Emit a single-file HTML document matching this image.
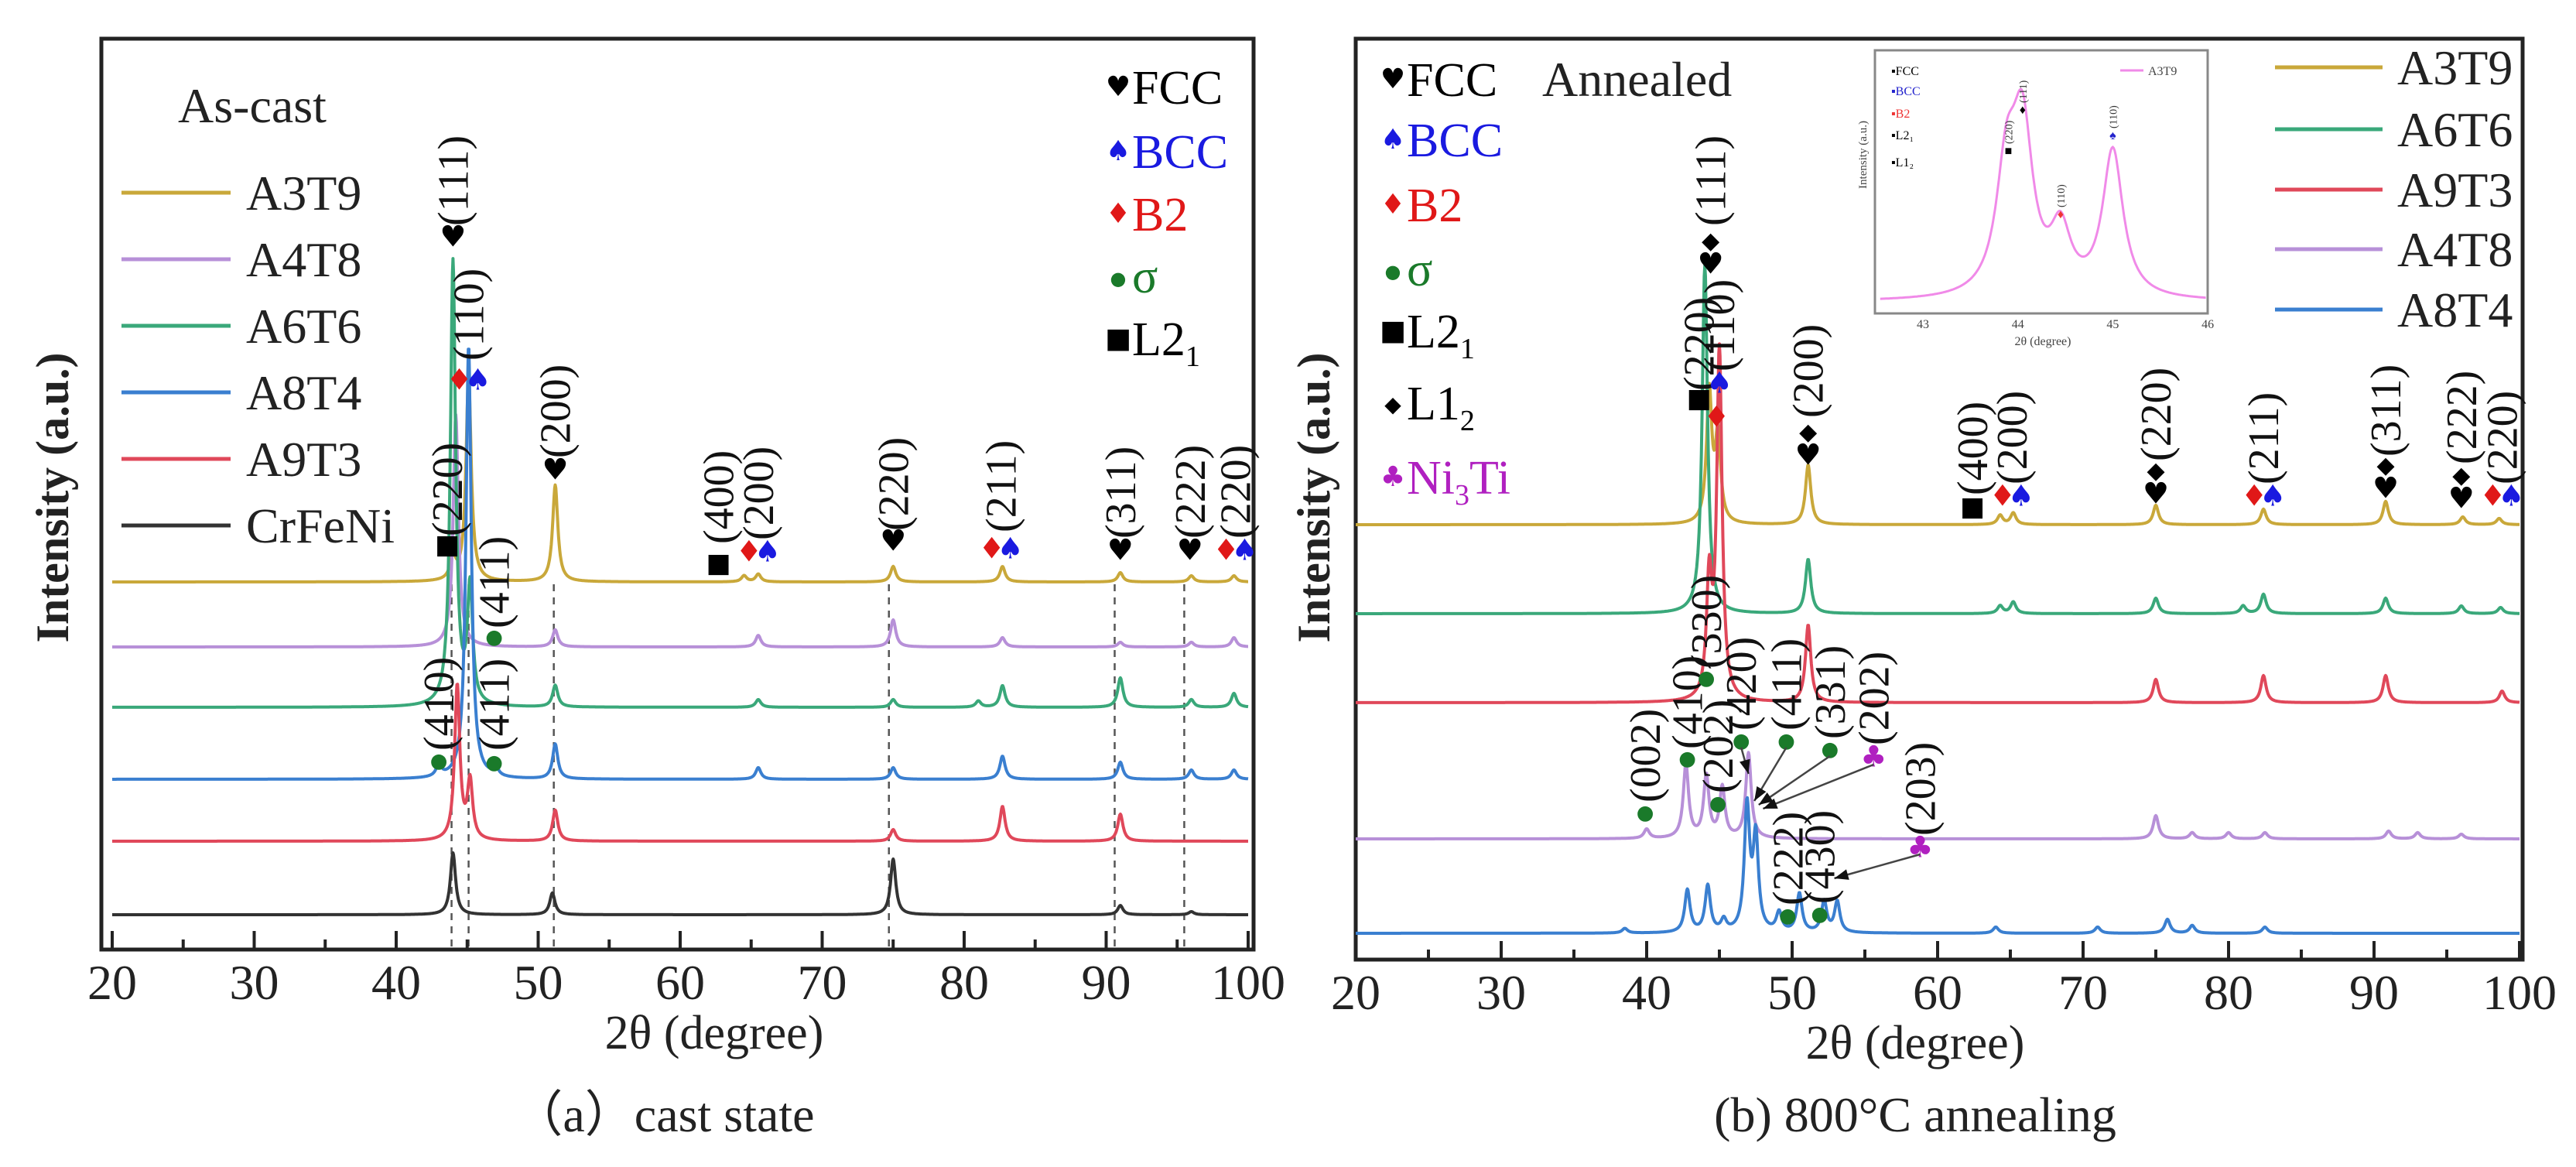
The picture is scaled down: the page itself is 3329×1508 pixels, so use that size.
<!DOCTYPE html>
<html><head><meta charset="utf-8">
<style>
html,body{margin:0;padding:0;background:#fff;}
svg{display:block;font-family:"Liberation Serif",serif;}
</style></head>
<body>
<svg id="fig" width="3329" height="1508" viewBox="0 0 3329 1508" xmlns="http://www.w3.org/2000/svg">
<rect width="3329" height="1508" fill="#fff"/>
<g id="panelA"></g>
<g id="panelB"></g>
</svg>
<script>
// ---------- data: panel (a) ----------
const aSamples = ["A3T9","A4T8","A6T6","A8T4","A9T3","CrFeNi"];
const aColors = ["#c9a83a","#b790d8","#3aa87a","#3a7fd0","#e0485a","#333333"];
const aOffsets = [475,391,313,220,140,45];
const aPeaks = [
 [[44.0,30],[45.1,265],[51.2,125],[64.5,8],[65.5,10],[75,20],[82.7,20],[91,12],[96,8],[99,8]],
 [[44.2,300],[51.2,22],[65.5,15],[75,35],[82.7,12],[91,6],[96,6],[99,12]],
 [[44.0,575],[45.2,150],[51.2,28],[65.5,10],[75,10],[81,8],[82.7,28],[91,38],[96,10],[99,18]],
 [[43.0,15],[45.1,560],[47,12],[51.2,45],[65.5,15],[75,15],[82.7,30],[91,22],[96,12],[99,12]],
 [[44.3,200],[45.2,75],[51.2,40],[75,15],[82.7,45],[91,35]],
 [[44.0,80],[51.0,28],[75,72],[91,12],[96,4]]
];
const aDashes = [43.9,45.1,51.1,74.7,90.6,95.5];
const xTicks = [20,30,40,50,60,70,80,90,100];
// annotations: [deg, label, markers, layout, markerY, textBottom]
const aAnn = [
 [44.0,"(111)","♥","s",305,292],
 [45.1,"(110)","♦♠","h",490,466],
 [51.2,"(200)","♥","s",606,592],
 [43.6,"(220)","■","s",703,693],
 [46.9,"(411)","●","s",822,812],
 [62.7,"(400)","■","s",727,703],
 [65.5,"(200)","♦♠","h",712,698],
 [75.0,"(220)","♥","s",698,686],
 [82.6,"(211)","♦♠","h",708,688],
 [91.0,"(311)","♥","s",710,696],
 [95.9,"(222)","♥","s",710,696],
 [99.1,"(220)","♦♠","h",710,696],
 [43.0,"(410)","●","s",982,970],
 [46.9,"(411)","●","s",984,970]
];
const aPhase = [["♥","FCC","#000","#000"],["♠","BCC","#1a1ae0","#1a1ae0"],["♦","B2","#e01818","#e01818"],["●","σ","#1a7a2a","#1a7a2a"],["■","L2","#000","#000"]];

// ---------- data: panel (b) ----------
const bSamples = ["A3T9","A6T6","A9T3","A4T8","A8T4"];
const bColors = ["#c9a83a","#3aa87a","#e0485a","#b790d8","#3a7fd0"];
const bOffsets = [562,447,332,156,34];
const bPeaks = [
 [[44.3,170],[44.9,110],[51.1,77],[64.3,12],[65.2,15],[75,25],[82.4,20],[90.8,30],[96.1,10],[98.6,8]],
 [[44.0,450],[51.1,70],[64.3,10],[65.2,15],[75,20],[81,10],[82.4,25],[90.8,20],[96,10],[98.7,8]],
 [[44.3,150],[45.0,450],[51.1,100],[75,30],[82.4,35],[90.8,35],[98.8,15]],
 [[40,12],[42.7,95],[44.1,80],[45.2,65],[47.0,110],[75,30],[77.5,8],[80,8],[82.5,8],[91,10],[93,8],[96,6]],
 [[38.5,6],[42.8,55],[44.2,60],[45.3,15],[46.9,160],[47.5,120],[49.1,25],[50.5,50],[52.2,40],[53.1,40],[64,8],[71,8],[75.8,18],[77.5,10],[82.5,8]]
];
const bAnn = [
 [44.4,"(111)","◆♥","v",325,292],
 [43.6,"(220)","■","s",514,505],
 [45.0,"(110)","♠","s",494,480],
 [44.8,"","♦","s",538,538],
 [51.1,"(200)","◆♥","v",572,540],
 [62.4,"(400)","■","s",654,640],
 [65.1,"(200)","♦♠","h",640,626],
 [75.0,"(220)","◆♥","v",622,596],
 [82.4,"(211)","♦♠","h",640,626],
 [90.8,"(311)","◆♥","v",615,590],
 [96.0,"(222)","◆♥","v",628,600],
 [98.8,"(220)","♦♠","h",640,626],
 [39.9,"(002)","●","s",1049,1037],
 [42.8,"(410)","●","s",979,968],
 [44.1,"(330)","●","s",875,864],
 [44.9,"(202)","●","s",1037,1025],
 [46.5,"(420)","●","s",956,944],
 [49.6,"(411)","●","s",956,944],
 [52.6,"(331)","●","s",967,955],
 [55.6,"(202)","♣","s",977,963],
 [58.8,"(203)","♣","s",1094,1080],
 [49.7,"(222)","●","s",1182,1170],
 [51.9,"(430)","●","s",1180,1168]
];
const bArrows = [[49.6,966,47.4,1035],[52.6,977,47.7,1040],[55.6,988,48.0,1045],[46.5,966,47.0,1000],[58.8,1104,52.9,1135]];
const bPhase = [["♥","FCC","#000","#000"],["♠","BCC","#1a1ae0","#1a1ae0"],["♦","B2","#e01818","#e01818"],["●","σ","#1a7a2a","#1a7a2a"],["■","L2","#000","#000"],["◆","L1","#000","#000"],["♣","Ni","#b020c0","#b020c0"]];
// inset
const insetTicks = [43,44,45,46];
const insetPeaks = [[43.88,150],[44.05,205],[44.45,80],[45.0,190]];

const NS="http://www.w3.org/2000/svg";
function mk(parent,tag,attrs,text){const e=document.createElementNS(NS,tag);for(const k in attrs)e.setAttribute(k,attrs[k]);if(text!==undefined)e.textContent=text;parent.appendChild(e);return e;}
const markColor={"♥":"#000","♠":"#1a1ae0","♦":"#e01818","◆":"#000","●":"#1a7a2a","■":"#000","♣":"#b020c0"};
const markSize={"♥":38,"♠":38,"♦":38,"◆":30,"●":26,"■":34,"♣":38};

function profile(peaks,x,w){let s=0;for(const p of peaks){const d=(x-p[0])/w;s+=p[1]/(1+d*d);}return s;}

function drawPanel(g,cfg){
  const X=d=>cfg.x0+(d-20)*cfg.kx;
  const Y=v=>cfg.axisY-v;
  const fr=mk(g,"rect",{x:cfg.left,y:cfg.top,width:cfg.right-cfg.left,height:cfg.axisY-cfg.top,fill:"none",stroke:"#222","stroke-width":5});
  
  
  (cfg.dashes||[]).forEach(d=>{
    const l=mk(g,"line",{x1:X(d),x2:X(d),y1:cfg.dashTop,y2:cfg.axisY,stroke:"#555","stroke-width":2.5,"stroke-dasharray":"9 8"});
    
    
  });
  cfg.samples.forEach((s,i)=>{
    let dStr="";
    for(let x=20;x<=100.001;x+=0.04){const v=cfg.offsets[i]+profile(cfg.peaks[i],x,0.22);dStr+=(dStr?"L":"M")+X(x).toFixed(1)+","+Y(v).toFixed(1);}
    const p=mk(g,"path",{d:dStr,fill:"none",stroke:cfg.colors[i],"stroke-width":4,"stroke-linejoin":"round"});
    
    
  });
  for(let t=20;t<=100;t+=5){
    const major=t%10===0;
    const l=mk(g,"line",{x1:X(t),x2:X(t),y1:cfg.axisY,y2:cfg.axisY-(major?24:13),stroke:"#222","stroke-width":4});
    
    
  }
  xTicks.forEach(t=>{
    const tx=mk(g,"text",{x:X(t),y:cfg.axisY+64,"font-size":64,"text-anchor":"middle",fill:"#222"},String(t));
    
    
  });
  const xt=mk(g,"text",{x:cfg.xTitleX,y:cfg.axisY+128,"font-size":62,"text-anchor":"middle",fill:"#222"},"2θ (degree)");
  
  
  const yt=mk(g,"text",{x:0,y:0,"font-size":60,"font-weight":"bold","text-anchor":"middle",fill:"#222",transform:`translate(${cfg.yTitleX},643) rotate(-90)`},"Intensity (a.u.)");
  
  
  const cap=mk(g,"text",{x:cfg.capX,y:1462,"font-size":64,"text-anchor":"middle",fill:"#222"},cfg.caption);
  
  
  cfg.ann.forEach(a=>{
    const cx=X(a[0]);
    const ms=[...a[2]];
    ms.forEach((m,k)=>{
      let mx=cx,my=a[4];
      if(a[3]==="h"){mx=cx+(k-(ms.length-1)/2)*24;}
      if(a[3]==="v"){my=a[4]+(k-(ms.length-1)/2)*30;}
      const fs=markSize[m];
      const t=mk(g,"text",{x:mx,y:my+fs*0.36,"font-size":fs,"text-anchor":"middle",fill:markColor[m],"font-family":"DejaVu Sans, sans-serif"},m);
      
      
    });
    if(a[1]){
      const t=mk(g,"text",{x:0,y:0,"font-size":56,fill:"#111",transform:`translate(${cx+19},${a[5]}) rotate(-90)`},a[1]);
      
      
    }
  });
}

const gA=document.getElementById("panelA");
drawPanel(gA,{x0:145,kx:18.35,axisY:1227,left:131,right:1620,top:50,samples:aSamples,colors:aColors,offsets:aOffsets,peaks:aPeaks,dashes:aDashes,dashTop:755,ann:aAnn,xTitleX:923,yTitleX:88,capX:858,caption:"（a）cast state"});
const gB=document.getElementById("panelB");
drawPanel(gB,{x0:1752,kx:18.8,axisY:1240,left:1752,right:3260,top:50,samples:bSamples,colors:bColors,offsets:bOffsets,peaks:bPeaks,dashes:[],dashTop:0,ann:bAnn,xTitleX:2475,yTitleX:1718,capX:2475,caption:"(b) 800°C annealing"});

const XB=d=>1752+(d-20)*18.8;
bArrows.forEach(a=>{
  const l=mk(gB,"line",{x1:XB(a[0]),y1:a[1],x2:XB(a[2]),y2:a[3],stroke:"#444","stroke-width":2.5});
  
  
  const ang=Math.atan2(a[3]-a[1],XB(a[2])-XB(a[0]));
  const hx=XB(a[2]),hy=a[3];
  const pts=[[hx,hy],[hx-18*Math.cos(ang)+7*Math.sin(ang),hy-18*Math.sin(ang)-7*Math.cos(ang)],[hx-18*Math.cos(ang)-7*Math.sin(ang),hy-18*Math.sin(ang)+7*Math.cos(ang)]];
  const h=mk(gB,"polygon",{points:pts.map(p=>p.join(",")).join(" "),fill:"#111"});
  
  
});

const tA=mk(gA,"text",{x:230,y:158,"font-size":64,fill:"#222"},"As-cast");


aSamples.forEach((s,i)=>{
  const y=249+i*86;
  const l=mk(gA,"line",{x1:157,x2:298,y1:y,y2:y,stroke:aColors[i],"stroke-width":5});
  
  
  const t=mk(gA,"text",{x:318,y:y+22,"font-size":64,fill:"#222"},s);
  
  
});
function phaseLegend(g,list,x,ys){
  list.forEach((p,i)=>{
    const y=ys[i];
    const m=mk(g,"text",{x:x,y:y+12,"font-size":p[0]==="●"?24:(p[0]==="◆"?28:36),fill:p[3],"font-family":"DejaVu Sans, sans-serif","text-anchor":"middle"},p[0]);
    
    
    const t=mk(g,"text",{x:x+18,y:y+22,"font-size":62,fill:p[2]},p[1]);
    
    
    if(p[1]==="L2"){mk(t,"tspan",{"font-size":38,dy:14},"1");}
    if(p[1]==="L1"){mk(t,"tspan",{"font-size":38,dy:14},"2");}
    if(p[1]==="Ni"){mk(t,"tspan",{"font-size":38,dy:14},"3");mk(t,"tspan",{"font-size":62,dy:-14},"Ti");}
  });
}
phaseLegend(gA,aPhase,1445,[112,195,276,356,437]);
phaseLegend(gB,bPhase,1800,[102,180,264,347,427,520,616]);
const tB=mk(gB,"text",{x:1993,y:124,"font-size":64,fill:"#222"},"Annealed");


bSamples.forEach((s,i)=>{
  const y=[87,167,245,322,400][i];
  const l=mk(gB,"line",{x1:2940,x2:3079,y1:y,y2:y,stroke:bColors[i],"stroke-width":5});
  
  
  const t=mk(gB,"text",{x:3098,y:y+22,"font-size":64,fill:"#222"},s);
  
  
});

const gi=mk(gB,"g",{});


const IX=d=>2485+(d-43)*122.7, IY=v=>390-v;
const ib=mk(gi,"rect",{x:2423,y:65,width:430,height:340,fill:"#fff",stroke:"#888","stroke-width":3});


let ip="";
for(let x=42.55;x<=45.98;x+=0.01){const v=profile(insetPeaks,x,0.13);ip+=(ip?"L":"M")+IX(x).toFixed(1)+","+IY(v).toFixed(1);}
const ipath=mk(gi,"path",{d:ip,fill:"none",stroke:"#f08ae8","stroke-width":3});


insetTicks.forEach(t=>{
  const tl=mk(gi,"text",{x:IX(t),y:424,"font-size":16,"text-anchor":"middle",fill:"#444"},String(t));
  
  
});
const ixt=mk(gi,"text",{x:2640,y:446,"font-size":16,"text-anchor":"middle",fill:"#444"},"2θ (degree)");


const iyt=mk(gi,"text",{x:0,y:0,"font-size":15,"text-anchor":"middle",fill:"#444",transform:"translate(2412,200) rotate(-90)"},"Intensity (a.u.)");


[["FCC","#000"],["BCC","#22c"],["B2","#e33"],["L2₁","#000"],["L1₂","#000"]].forEach((p,i)=>{
  const t=mk(gi,"text",{x:2444,y:[97,123,152,180,215][i],"font-size":16,fill:p[1]},"▪"+p[0]);
  
  
});
const il=mk(gi,"line",{x1:2740,x2:2770,y1:91,y2:91,stroke:"#f08ae8","stroke-width":3});


const ilt=mk(gi,"text",{x:2776,y:97,"font-size":16,fill:"#444"},"A3T9");


[[43.9,"(220)","■",200],[44.05,"(111)","♦",147],[44.45,"(110)","♦",282],[45.0,"(110)","♠",180]].forEach(a=>{
  const m=mk(gi,"text",{x:IX(a[0]),y:a[3],"font-size":16,"text-anchor":"middle",fill:a[2]==="♠"?"#22c":(a[0]===44.45?"#e33":"#000")},a[2]);
  
  
  const t=mk(gi,"text",{x:0,y:0,"font-size":14,fill:"#333",transform:`translate(${IX(a[0])+5},${a[3]-14}) rotate(-90)`},a[1]);
  
  
});
</script>
</body></html>
